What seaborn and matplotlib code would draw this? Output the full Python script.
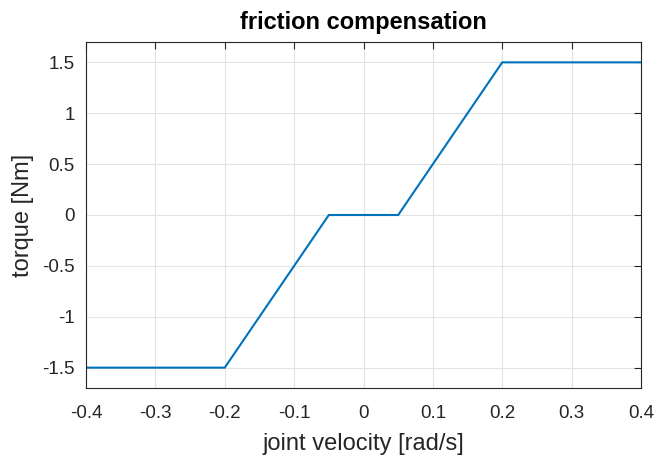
import numpy as np
import pandas as pd
import matplotlib
matplotlib.use("Agg")
import matplotlib.pyplot as plt
import seaborn as sns

# Data
velocity = [-0.4, -0.2, -0.05, 0.05, 0.2, 0.4]
torque = [-1.5, -1.5, 0.0, 0.0, 1.5, 1.5]
xticks = [-0.4, -0.3, -0.2, -0.1, 0, 0.1, 0.2, 0.3, 0.4]
xticklabels = ["-0.4", "-0.3", "-0.2", "-0.1", "0", "0.1", "0.2", "0.3", "0.4"]
yticks = [-1.5, -1, -0.5, 0, 0.5, 1, 1.5]
yticklabels = ["-1.5", "-1", "-0.5", "0", "0.5", "1", "1.5"]

df = pd.DataFrame({"velocity": velocity, "torque": torque})

sns.set_style("white")
plt.rcParams["font.family"] = ["Liberation Sans", "DejaVu Sans"]

fig = plt.figure(figsize=(6.57, 4.57), dpi=100)
ax = fig.add_axes([86 / 657, 1 - 388 / 457, (641 - 86) / 657, (388 - 42) / 457])

sns.lineplot(data=df, x="velocity", y="torque", ax=ax, color="#0072BD",
             linewidth=1.5, sort=False, estimator=None)

ax.set_xlim(-0.4, 0.4)
ax.set_ylim(-1.7, 1.7)
ax.set_xticks(xticks)
ax.set_xticklabels(xticklabels)
ax.set_yticks(yticks)
ax.set_yticklabels(yticklabels)
ax.grid(True, color="#e3e3e3", linewidth=0.8)
ax.set_axisbelow(True)

for s in ax.spines.values():
    s.set_color("#262626")
    s.set_linewidth(0.8)

ax.tick_params(direction="in", length=5, width=0.8, colors="#262626",
               labelsize=13.5, top=True, right=True)
ax.tick_params(axis="x", pad=12)
ax.tick_params(axis="y", pad=8)
for lbl in ax.get_xticklabels() + ax.get_yticklabels():
    lbl.set_color("#262626")

ax.set_xlabel("joint velocity [rad/s]", fontsize=17, color="#262626", labelpad=8)
ax.set_ylabel("torque [Nm]", fontsize=17, color="#262626", labelpad=6)
ax.set_title("friction compensation", fontsize=17, fontweight="bold", color="black", pad=9)

fig.savefig("out.png", dpi=100)
